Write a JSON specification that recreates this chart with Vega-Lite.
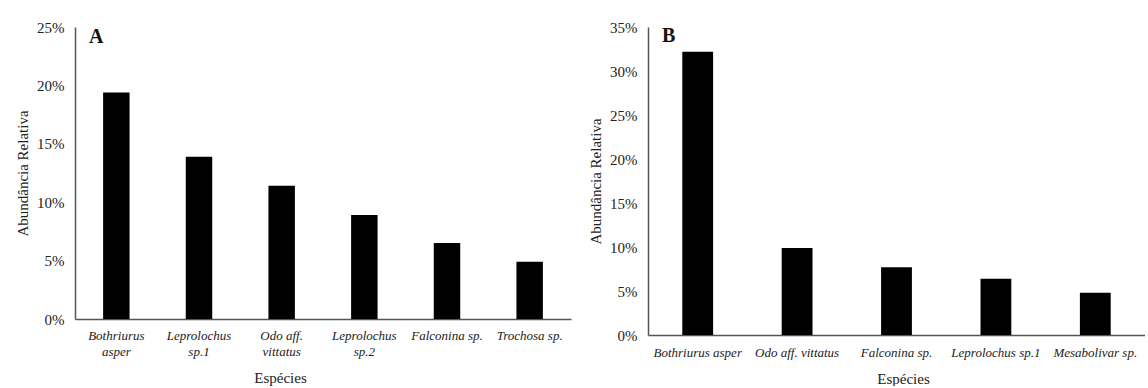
{
  "$schema": "https://vega.github.io/schema/vega-lite/v6.json",
  "background": "white",
  "padding": {"left": 15, "top": 20, "right": 0, "bottom": 0},
  "spacing": 17,
  "config": {
    "view": {"stroke": null},
    "font": "Liberation Serif",
    "axis": {
      "domainColor": "#555555",
      "domainWidth": 1.5,
      "ticks": false,
      "grid": false,
      "labelColor": "#222222",
      "titleColor": "#222222",
      "labelFont": "Liberation Serif",
      "titleFont": "Liberation Serif",
      "titleFontWeight": "normal"
    },
    "title": {"font": "Liberation Serif", "fontSize": 20, "fontWeight": "bold", "color": "#111111"}
  },
  "datasets": {
    "A": [
      {"especie": "Bothriurus asper", "abundancia": 0.194},
      {"especie": "Leprolochus sp.1", "abundancia": 0.139},
      {"especie": "Odo aff. vittatus", "abundancia": 0.114},
      {"especie": "Leprolochus sp.2", "abundancia": 0.089},
      {"especie": "Falconina sp.", "abundancia": 0.065},
      {"especie": "Trochosa sp.", "abundancia": 0.049}
    ],
    "B": [
      {"especie": "Bothriurus asper", "abundancia": 0.322},
      {"especie": "Odo aff. vittatus", "abundancia": 0.099},
      {"especie": "Falconina sp.", "abundancia": 0.077},
      {"especie": "Leprolochus sp.1", "abundancia": 0.064},
      {"especie": "Mesabolivar sp.", "abundancia": 0.048}
    ]
  },
  "hconcat": [
    {
      "width": 496,
      "height": 292,
      "data": {"name": "A"},
      "title": {"text": "A", "anchor": "start", "frame": "group", "orient": "top", "offset": -22, "baseline": "top", "dx": 14, "dy": 5},
      "mark": {"type": "bar", "color": "#000000"},
      "encoding": {
        "x": {
          "field": "especie",
          "type": "nominal",
          "sort": null,
          "scale": {"paddingInner": 0.68, "paddingOuter": 0.34},
          "axis": {
            "title": "Espécies",
            "titleFontSize": 15,
            "titlePadding": 12,
            "titleX": 205,
            "labelAngle": 0,
            "labelFontSize": 13,
            "labelFontStyle": "italic",
            "labelPadding": 10,
            "labelLineHeight": 16,
            "labelExpr": "datum.label == 'Bothriurus asper' ? ['Bothriurus', 'asper'] : datum.label == 'Leprolochus sp.1' ? ['Leprolochus', 'sp.1'] : datum.label == 'Odo aff. vittatus' ? ['Odo aff.', 'vittatus'] : datum.label == 'Leprolochus sp.2' ? ['Leprolochus', 'sp.2'] : datum.label"
          }
        },
        "y": {
          "field": "abundancia",
          "type": "quantitative",
          "scale": {"domain": [0, 0.25], "nice": false},
          "axis": {
            "title": "Abundância Relativa",
            "titleFontSize": 15,
            "titlePadding": 6,
            "labelFontSize": 15,
            "labelPadding": 11,
            "values": [0, 0.05, 0.1, 0.15, 0.2, 0.25],
            "format": ".0%"
          }
        }
      }
    },
    {
      "width": 497,
      "height": 308,
      "data": {"name": "B"},
      "title": {"text": "B", "anchor": "start", "frame": "group", "orient": "top", "offset": -22, "baseline": "top", "dx": 14, "dy": 4},
      "mark": {"type": "bar", "color": "#000000"},
      "encoding": {
        "x": {
          "field": "especie",
          "type": "nominal",
          "sort": null,
          "scale": {"paddingInner": 0.69, "paddingOuter": 0.345},
          "axis": {
            "title": "Espécies",
            "titleFontSize": 15,
            "titlePadding": 12,
            "titleX": 255,
            "labelAngle": 0,
            "labelFontSize": 13,
            "labelFontStyle": "italic",
            "labelPadding": 11
          }
        },
        "y": {
          "field": "abundancia",
          "type": "quantitative",
          "scale": {"domain": [0, 0.35], "nice": false},
          "axis": {
            "title": "Abundância Relativa",
            "titleFontSize": 15,
            "titlePadding": 6,
            "labelFontSize": 15,
            "labelPadding": 11,
            "values": [0, 0.05, 0.1, 0.15, 0.2, 0.25, 0.3, 0.35],
            "format": ".0%"
          }
        }
      }
    }
  ]
}
